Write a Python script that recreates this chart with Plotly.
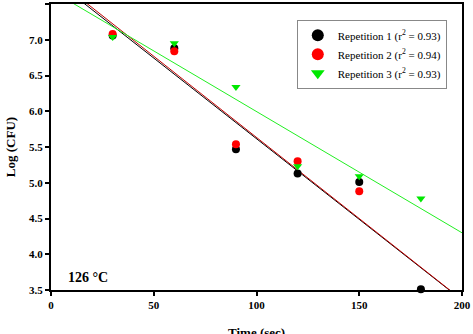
import plotly.graph_objects as go

# Data
time_s = [30, 60, 90, 120, 150, 180]
rep1 = [7.06, 6.88, 5.47, 5.13, 5.01, 3.51]
rep2 = [7.08, 6.84, 5.54, 5.30, 4.88, None]
rep3 = [7.04, 6.95, 6.34, 5.23, 5.09, 4.78]

# Linear fit parameters (slope, intercept) for each repetition
fit_slopes = [-0.02256, -0.0227, -0.01696]
fit_intercepts = [7.872, 7.904, 7.692]

names = ["Repetition 1 (r<sup>2</sup> = 0.93)",
         "Repetition 2 (r<sup>2</sup> = 0.94)",
         "Repetition 3 (r<sup>2</sup> = 0.93)"]
marker_colors = ["#000000", "#ff0000", "#00e800"]
line_colors = ["#000000", "#c00000", "#22ee22"]
symbols = ["circle", "circle", "triangle-down"]
series = [rep1, rep2, rep3]

fit_x = [0, 200]

fig = go.Figure()

# Regression lines
for s, b, c in zip(fit_slopes, fit_intercepts, line_colors):
    fig.add_trace(go.Scatter(
        x=fit_x, y=[b + s * xv for xv in fit_x], mode="lines",
        line=dict(color=c, width=1), showlegend=False, hoverinfo="skip"))

# Data points
for ys, n, mc, sym in zip(series, names, marker_colors, symbols):
    fig.add_trace(go.Scatter(
        x=time_s, y=ys, mode="markers", name=n,
        marker=dict(color=mc, size=8, symbol=sym, line=dict(width=0)),
        cliponaxis=False))

font_family = "Times New Roman, Liberation Serif, serif"

fig.add_annotation(x=7.5, y=3.68, xref="x", yref="y", text="<b>126 °C</b>",
                   showarrow=False, xanchor="left", yanchor="middle",
                   font=dict(family=font_family, size=14, color="black"))

# x-axis title (placed low, as in the reference, where it is partly cut off)
fig.add_annotation(x=0.5, y=-0.147, xref="paper", yref="paper",
                   text="<b>Time (sec)</b>", showarrow=False,
                   xanchor="center", yanchor="middle",
                   font=dict(family=font_family, size=13, color="black"))

axis_common = dict(
    showgrid=False, zeroline=False, showline=True, linecolor="black",
    linewidth=2, mirror=True, ticks="outside", ticklen=4, tickwidth=1.5,
    tickcolor="black", automargin=False,
    tickfont=dict(family=font_family, size=11, color="black", weight="bold"),
)

fig.update_layout(
    width=473, height=334,
    margin=dict(l=51, r=11, t=4, b=44),
    paper_bgcolor="white", plot_bgcolor="white",
    font=dict(family=font_family, color="black"),
    xaxis=dict(range=[0, 200], tickvals=[0, 50, 100, 150, 200],
               **axis_common),
    yaxis=dict(range=[3.5, 7.5], tickvals=[3.5, 4.0, 4.5, 5.0, 5.5, 6.0, 6.5, 7.0, 7.5],
               tickformat=".1f",
               title=dict(text="<b>Log (CFU)</b>", standoff=10,
                          font=dict(family=font_family, size=13, color="black")),
               **axis_common),
    legend=dict(x=0.598, y=0.945, xanchor="left", yanchor="top",
                bgcolor="white", bordercolor="#888888", borderwidth=1,
                font=dict(family=font_family, size=11, color="black"),
                tracegroupgap=0, itemsizing="constant"),
    showlegend=True,
)

fig.write_html("out.html")
